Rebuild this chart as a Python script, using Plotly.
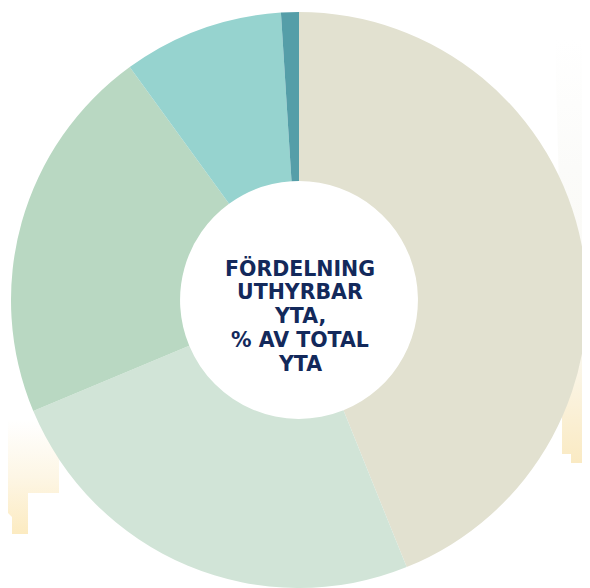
import plotly.graph_objects as go

# Data (share of total lettable area, %)
categories = ["Segment A", "Segment B", "Segment C", "Segment D", "Segment E"]
shares = [43.9, 24.8, 21.3, 9.0, 1.0]
colors = ["#E2E1D0", "#D1E4D7", "#B9D8C2", "#96D3CF", "#559EA8"]
title_lines = ["FÖRDELNING", "UTHYRBAR", "YTA,", "% AV TOTAL", "YTA"]

# The page body has an 8px margin, so the figure is sized to fit the window
OFF = 8
W, H = 590 - OFF, 588 - OFF

def px(xp):  # page x -> paper x
    return (xp - OFF) / W

def py(yp):  # page y -> paper y
    return 1 - (yp - OFF) / H

fig = go.Figure()

# Decorative background shapes (pale yellow gradient steps), page coordinates
left_x = [0, 59, 59, 28, 28, 12, 12, 0, 0]
left_y = [400, 400, 493, 493, 534, 534, 517, 505, 400]
right_x = [555, 600, 600, 571, 571, 562, 562, 555]
right_y = [40, 40, 463, 463, 454, 454, 300, 40]
fig.add_trace(go.Scatter(
    x=left_x, y=left_y, mode="lines", line=dict(width=0), fill="toself",
    fillgradient=dict(type="vertical", start=420, stop=534,
                      colorscale=[[0, "rgb(255,255,255)"], [0.5, "rgb(253,246,229)"],
                                  [1, "rgb(252,235,193)"]]),
    hoverinfo="skip", showlegend=False))
fig.add_trace(go.Scatter(
    x=right_x, y=right_y, mode="lines", line=dict(width=0), fill="toself",
    fillgradient=dict(type="vertical", start=40, stop=463,
                      colorscale=[[0, "rgb(255,255,255)"], [0.3, "rgb(251,251,249)"],
                                  [0.7, "rgb(250,249,243)"], [1, "rgb(250,234,195)"]]),
    hoverinfo="skip", showlegend=False))

fig.add_trace(go.Pie(
    labels=categories, values=shares, sort=False, direction="clockwise",
    rotation=0, hole=0.413, textinfo="none", hoverinfo="label+percent",
    marker=dict(colors=colors, line=dict(width=0)),
    domain=dict(x=[px(10), px(588)], y=[0, py(12)]),
    showlegend=False))

line_centers = [268, 292, 316, 340, 364]
for txt, yc in zip(title_lines, line_centers):
    fig.add_annotation(
        text=txt, x=px(300), y=py(yc), xref="paper", yref="paper",
        xanchor="center", yanchor="middle", showarrow=False, align="center",
        font=dict(family="DejaVu Sans", size=20.5, color="#13295B", weight="bold"))

fig.update_layout(
    width=W, height=H, margin=dict(l=0, r=0, t=0, b=0),
    paper_bgcolor="white", plot_bgcolor="rgba(0,0,0,0)",
    xaxis=dict(range=[OFF, 590], visible=False, fixedrange=True),
    yaxis=dict(range=[588, OFF], visible=False, fixedrange=True),
    showlegend=False)

fig.write_html("out.html")
